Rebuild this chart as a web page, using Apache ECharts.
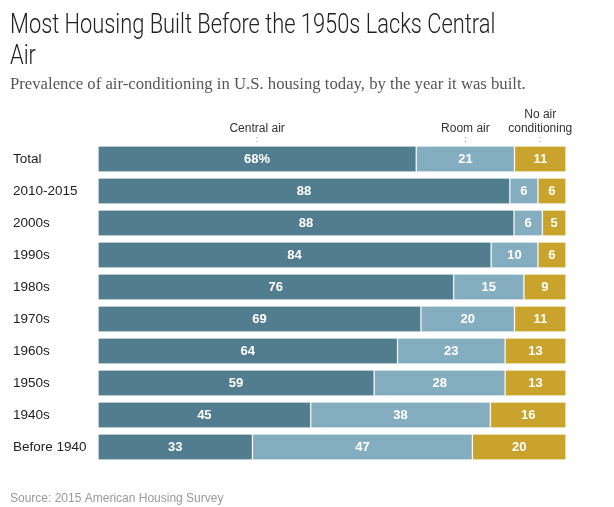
<!DOCTYPE html>
<html><head><meta charset="utf-8">
<script src="https://cdn.jsdelivr.net/npm/echarts@6/dist/echarts.min.js"></script>
<style>html,body{margin:0;padding:0;background:#fff}#c{width:614px;height:507px}</style>
</head><body><div id="c"></div>
<script>
var categories = ['Total','2010-2015','2000s','1990s','1980s','1970s','1960s','1950s','1940s','Before 1940'];
var centralAir = [68,88,88,84,76,69,64,59,45,33];
var roomAir = [21,6,6,10,15,20,23,28,38,47];
var noAir = [11,6,5,6,9,11,13,13,16,20];
var seriesNames = ['Central air','Room air','No air\nconditioning'];
var colors = ['#517d8e','#84aebf','#c9a32b'];

var raw = [centralAir, roomAir, noAir];
var totals = categories.map(function(_, i){ return centralAir[i]+roomAir[i]+noAir[i]; });

var chart = echarts.init(document.getElementById('c'), null, {renderer:'canvas'});
var series = raw.map(function(arr, s){
  return {
    name: seriesNames[s], type:'bar', stack:'a', barWidth:'81%',
    itemStyle:{color:colors[s], borderColor:'rgba(255,255,255,0.22)', borderWidth:1},
    data: arr.map(function(v,i){ return v/totals[i]*100; }),
    label:{show:true, position:'inside', color:'#fff', fontWeight:'bold', fontSize:13,
      fontFamily:'Liberation Sans, Arial, sans-serif',
      formatter:function(p){ var v = raw[p.seriesIndex][p.dataIndex]; return (p.dataIndex===0 && p.seriesIndex===0) ? v+'%' : ''+v; }}
  };
});
chart.setOption({
  animation:false,
  title:[
    {text:'Prevalence of air-conditioning in U.S. housing today, by the year it was built.', left:5, top:71,
     textStyle:{fontSize:16.7, fontWeight:'normal', color:'#555', fontFamily:'Liberation Serif, serif'}},
    {text:'Source: 2015 American Housing Survey', left:5, top:488,
     textStyle:{fontSize:12, fontWeight:'normal', color:'#999', fontFamily:'Liberation Sans, Arial, sans-serif'}}
  ],
  grid:{left:98, right:48, top:143, bottom:44},
  xAxis:{type:'value', min:0, max:100, show:false},
  yAxis:{type:'category', data:categories, inverse:true,
    axisLine:{show:false}, axisTick:{show:false}, splitLine:{show:false},
    axisLabel:{align:'left', margin:85, fontSize:13.5, color:'#222', fontFamily:'Liberation Sans, Arial, sans-serif'}},
  series: series
});

var graphics = [{type:'text', x:10, y:10, scaleX:0.78, style:{text:'Most Housing Built Before the 1950s Lacks Central\nAir',
  fill:'#222', font:'300 28px Roboto, Liberation Sans, sans-serif', lineHeight:31}}];
// header labels over the Total row segments
var cum = 0;
for (var s=0; s<3; s++) {
  var v = raw[s][0]/totals[0]*100;
  var mid = cum + v/2; cum += v;
  var pt = chart.convertToPixel({gridIndex:0}, [mid, 'Total']);
  graphics.push({type:'text', x:pt[0], y:136, style:{text:seriesNames[s], fill:'#333', font:'12px Liberation Sans, Arial, sans-serif', textAlign:'center', textVerticalAlign:'bottom', lineHeight:14}});
  graphics.push({type:'text', x:pt[0], y:144, style:{text:':', fill:'#888', font:'9px Liberation Sans, Arial, sans-serif', textAlign:'center', textVerticalAlign:'bottom'}});
}
chart.setOption({graphic:graphics});
</script></body></html>
